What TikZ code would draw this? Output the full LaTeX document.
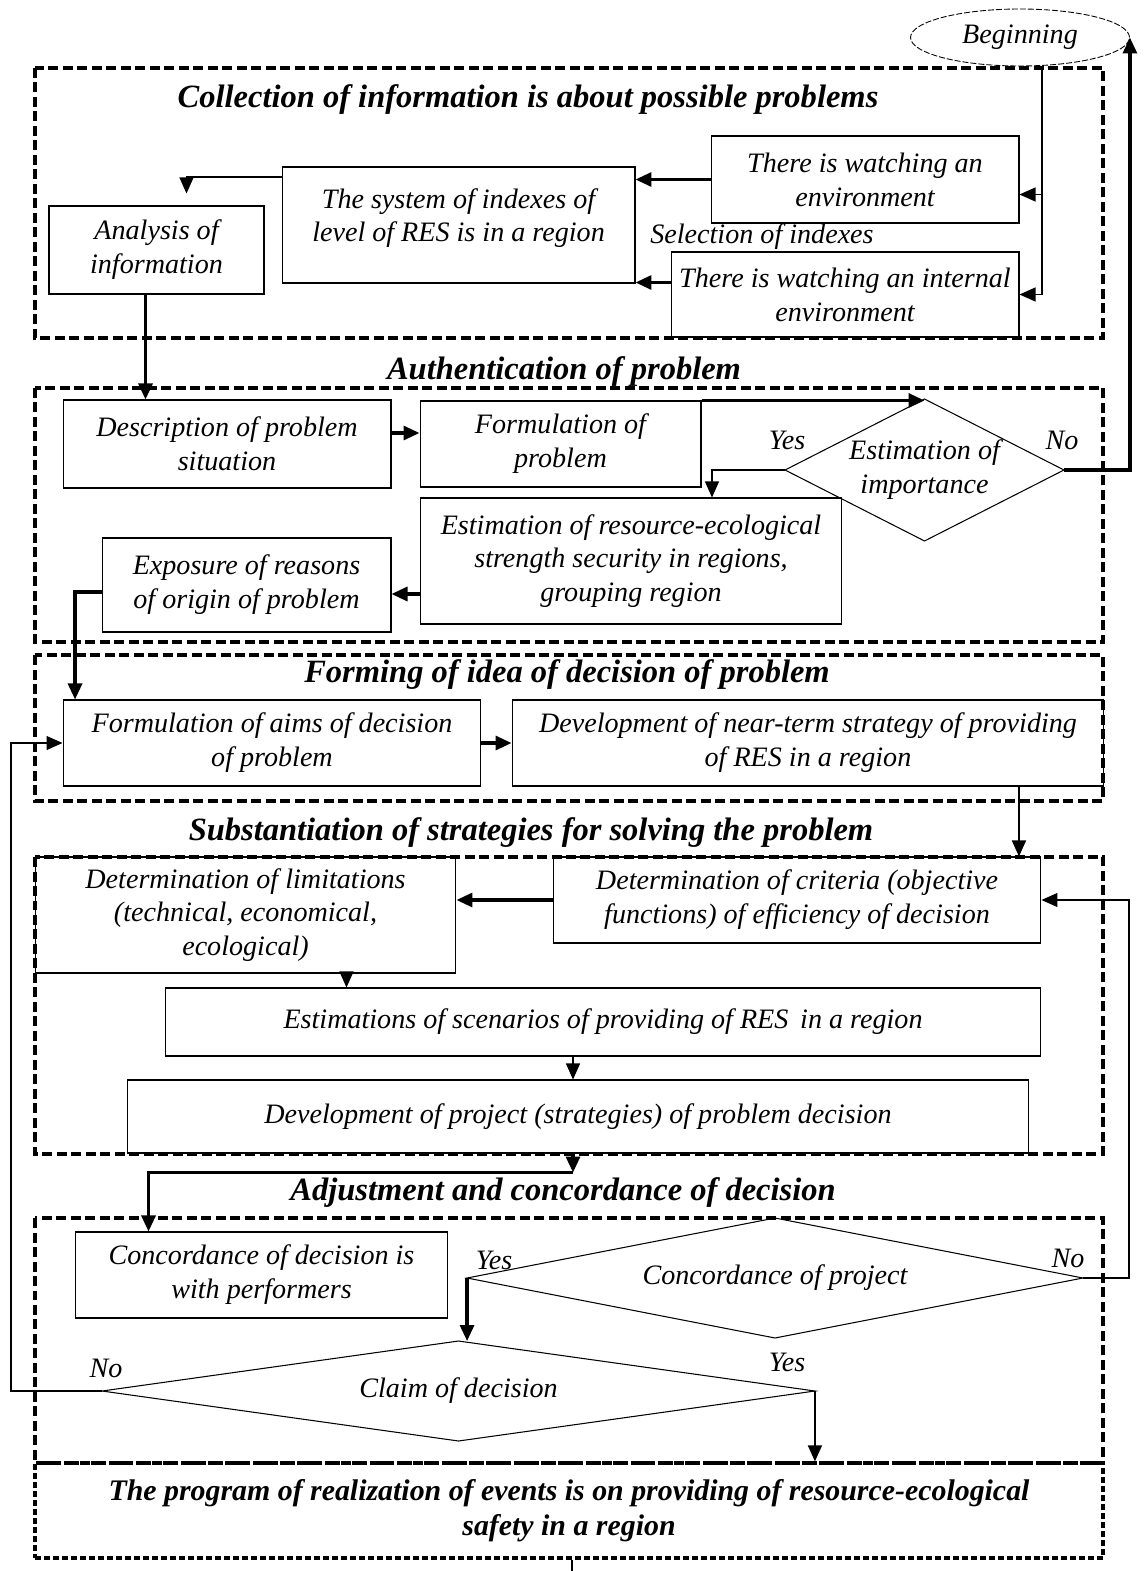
\documentclass[tikz,border=0pt]{standalone}
\usepackage{fontspec}
\setmainfont{Liberation Serif}
\usetikzlibrary{positioning,arrows.meta,shapes.geometric}

\begin{document}
\begin{tikzpicture}[x=0.02cm, y=-0.02cm,
  box/.style={draw, line width=0.6pt, align=center, inner sep=2pt, font=\fontsize{16}{19.3}\selectfont\itshape},
  dia/.style={draw, diamond, line width=0.6pt, inner sep=0pt, outer sep=0pt, align=center, font=\fontsize{16}{19.3}\selectfont\itshape},
  ttl/.style={font=\fontsize{18.5}{22}\selectfont\bfseries\itshape},
  lbl/.style={font=\fontsize{16}{19.3}\selectfont\itshape, inner sep=0pt},
  dframe/.style={line width=1.9pt, dash pattern=on 0.2cm off 0.09cm},
  arr/.style={-{Triangle[length=0.32cm, width=0.28cm]}, line width=1.8pt},
  arrmid/.style={-{Triangle[length=0.32cm, width=0.28cm]}, line width=0.9pt},
  arrthin/.style={-{Triangle[length=0.32cm, width=0.28cm]}, line width=0.6pt}]
  \useasboundingbox (0,0) rectangle (1148,1571);
  \coordinate (rt) at (1129,0);
  \coordinate (lt) at (11,0);

  % frames
  \draw[dframe] (35,68) rectangle (1103,338);
  \draw[dframe] (35,388) rectangle (1103,642);
  \draw[dframe] (35,655) rectangle (1103,801);
  \draw[dframe] (35,857) rectangle (1103,1154);
  \draw[dframe] (35,1218) rectangle (1103,1463);

  \node[ttl] (t1) at (528,100) {Collection of information is about possible problems};
  \node[ttl] (t2) at (564,372) {Authentication of problem};
  \node[ttl] (t3) at (567,675) {Forming of idea of decision of problem};
  \node[ttl] (t4) at (531,833) {Substantiation of strategies for solving the problem};
  \node[ttl] (t5) at (563,1193) {Adjustment and concordance of decision};

  \node[draw, ellipse, line width=0.5pt, dash pattern=on 0.12cm off 0.04cm, minimum width=4.38cm, minimum height=1.14cm, inner sep=0pt, font=\fontsize{16}{19.3}\selectfont\itshape] (begin) at (1020,37.5) {Beginning};

  \node[box, minimum width=6.16cm, minimum height=1.74cm] (env) at (865,179.5) {There is watching an\\environment};
  \node[box, minimum width=7.06cm, minimum height=2.32cm] (sys) at (458.5,225) {The system of indexes of\\level of RES is in a region\\[-8pt]\mbox{}};
  \node[box, minimum width=4.3cm, minimum height=1.76cm] (ana) at (156.5,250) {Analysis of\\information};
  \node[box, minimum width=6.96cm, minimum height=1.7cm] (int) at (845,294.5) {There is watching an internal\\environment};
  \node[lbl, anchor=west] (sel) at (650,237) {Selection of indexes};

  \node[box, minimum width=6.56cm, minimum height=1.76cm] (desc) at (227,444) {Description of problem\\situation};
  \node[box, minimum width=5.62cm, minimum height=1.72cm] (form) at (560.5,444) {Formulation of\\problem};
  \node[dia, minimum width=5.58cm, minimum height=2.84cm, aspect=1.96] (imp) at (924.5,470) {Estimation of\\importance};
  \node[box, minimum width=8.44cm, minimum height=2.52cm] (est) at (631,561) {Estimation of resource-ecological\\strength security in regions,\\grouping region};
  \node[box, minimum width=5.78cm, minimum height=1.88cm] (exp) at (246.5,585) {Exposure of reasons\\of origin of problem};
  \node[lbl] (yes1) at (787,440) {Yes};
  \node[lbl] (no1) at (1062,440) {No};

  \node[box, minimum width=8.36cm, minimum height=1.72cm] (aims) at (272,743) {Formulation of aims of decision\\of problem};
  \node[box, minimum width=11.84cm, minimum height=1.72cm] (dev) at (808,743) {Development of near-term strategy of providing\\of RES in a region};

  \node[box, minimum width=8.42cm, minimum height=2.32cm] (lim) at (245.5,915) {Determination of limitations\\(technical, economical,\\ecological)};
  \node[box, minimum width=9.76cm, minimum height=1.72cm] (crit) at (797,900) {Determination of criteria (objective\\functions) of efficiency of decision};
  \node[box, minimum width=17.52cm, minimum height=1.36cm] (scen) at (603,1022) {Estimations of scenarios of providing of RES\, in a region};
  \node[box, minimum width=18.04cm, minimum height=1.46cm] (proj) at (578,1116.5) {Development of project (strategies) of problem decision};

  \node[box, minimum width=7.46cm, minimum height=1.72cm] (conc) at (261.5,1275) {Concordance of decision is\\with performers};
  \node[dia, minimum width=12.32cm, minimum height=2.4cm, aspect=5.13] (cproj) at (775,1278) {Concordance of project};
  \node[dia, minimum width=14.26cm, minimum height=2.0cm, aspect=7.13] (claim) at (458.5,1391) {Claim of decision};
  \node[lbl] (yes2) at (494,1260) {Yes};
  \node[lbl] (no2) at (1068,1258) {No};
  \node[lbl] (no3) at (106,1368) {No};
  \node[lbl] (yes3) at (787,1362) {Yes};

  \node[draw, line width=1.9pt, dash pattern=on 0.12cm off 0.06cm, minimum width=21.36cm, minimum height=1.9cm, align=center, font=\fontsize{17}{20}\selectfont\bfseries\itshape] (fin) at (569,1510.5) {The program of realization of events is on providing of resource-ecological\\safety in a region};

  \draw[arr] (imp.east) -| (begin.east);
  \draw[arrthin] ([xshift=0.44cm]begin.south) |- ([yshift=-0.3cm]env.east);
  \draw[arrthin] ([xshift=0.44cm]begin.south) |- (int.east);
  \draw[arr] (env.west) -- (env.west -| sys.east);
  \draw[arr] ([yshift=0.24cm]int.west) -- ([yshift=0.24cm]int.west -| sys.east);
  \draw[arrthin] ([yshift=0.96cm]sys.west) -| ([xshift=0.6cm,yshift=0.24cm]ana.north);
  \draw[arr] ([xshift=-0.22cm]ana.south) -- ([xshift=-0.22cm]ana.south |- desc.north);
  \draw[arr] ([yshift=0.22cm]desc.east) -- ([yshift=0.22cm]desc.east -| form.west);
  \draw[arr] (form.north east) -- (form.north east -| imp.north);
  \draw[arrthin] (imp.west) -| ([xshift=1.62cm]est.north);
  \draw[arr] ([yshift=-0.66cm]est.west) -- ([yshift=-0.66cm]est.west -| exp.east);
  \draw[arr] ([yshift=-0.14cm]exp.west) -| ([xshift=-3.94cm]aims.north);
  \draw[arr] (aims.east) -- (dev.west);
  \draw[arrmid] ([xshift=4.22cm]dev.south) -- ([xshift=4.22cm]dev.south |- crit.north);
  \draw[arr] (crit.west) -- (crit.west -| lim.east);
  \draw[arrthin] ([xshift=2.02cm]lim.south) -- ([xshift=2.02cm]lim.south |- scen.north);
  \draw[arrthin] ([xshift=-0.6cm]scen.south) -- ([xshift=-0.6cm]scen.south |- proj.north);
  \draw[arr] ([xshift=-0.1cm]proj.south) -- ++(0,19) coordinate (j1);
  \draw[arr] (j1) -| ([xshift=-2.26cm]conc.north);
  \draw[arr] (cproj.west) -- (cproj.west |- claim.north);
  \draw[arrthin] (cproj.east) -- (cproj.east -| rt) |- (crit.east);
  \draw[arrthin] (claim.west) -- (claim.west -| lt) |- (aims.west);
  \draw[arrmid] (claim.east) -- (claim.east |- fin.north);
  \draw[line width=0.6pt] ([xshift=0.06cm]fin.south) -- ++(0,14) coordinate (out);
\end{tikzpicture}
\end{document}
